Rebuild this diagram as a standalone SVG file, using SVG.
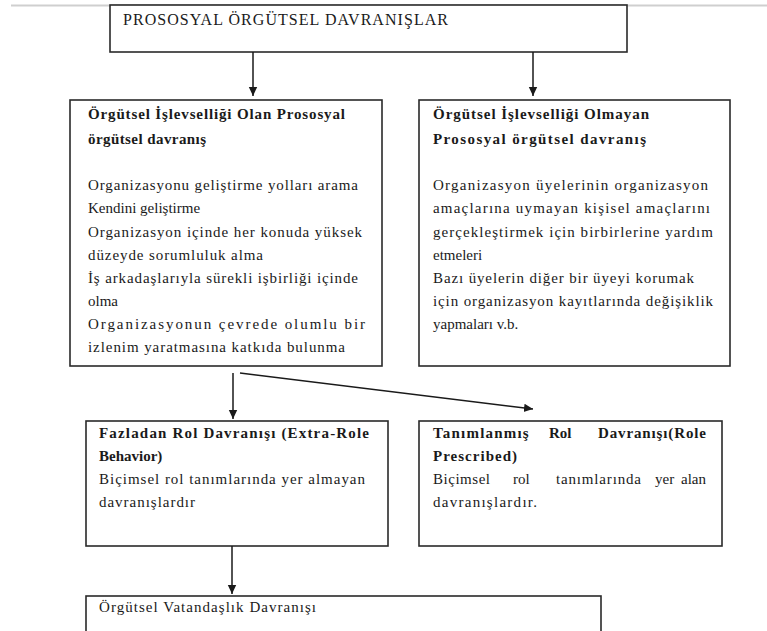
<svg xmlns="http://www.w3.org/2000/svg" width="767" height="631" viewBox="0 0 767 631">
<defs>
<marker id="ah" markerUnits="userSpaceOnUse" markerWidth="10" markerHeight="10" refX="9" refY="5" orient="auto">
<path d="M0,0.8 L9,5 L0,9.2 Z" fill="#1a1a1a"/>
</marker>
<style>
.box{fill:#fff;stroke:#2a2a2a;stroke-width:1.6}
.t{font-family:"Liberation Serif","Times New Roman",serif;font-size:15px;fill:#1a1a1a}
.h{font-size:16px}
.b{font-weight:bold}
.c{stroke:#1a1a1a;stroke-width:1.5;fill:none;marker-end:url(#ah)}
</style>
</defs>
<rect x="0" y="0" width="767" height="631" fill="#fff"/>
<line x1="11" y1="5.5" x2="767" y2="5.5" stroke="#cfcfcf" stroke-width="2"/>

<g id="node-top">
<rect class="box" x="110" y="5" width="517" height="47"/>
<text class="t h" x="123" y="25" textLength="325" lengthAdjust="spacing">PROSOSYAL ÖRGÜTSEL DAVRANIŞLAR</text>
</g>

<g id="node-left">
<rect class="box" x="70" y="100" width="312" height="266"/>
<text class="t b" x="88" y="119" textLength="257" lengthAdjust="spacing">Örgütsel İşlevselliği Olan Prososyal</text>
<text class="t b" x="88" y="144" textLength="118" lengthAdjust="spacing">örgütsel davranış</text>
<text class="t" x="88" y="190" textLength="270" lengthAdjust="spacing">Organizasyonu geliştirme yolları arama</text>
<text class="t" x="88" y="213">Kendini geliştirme</text>
<text class="t" x="88" y="237" textLength="274" lengthAdjust="spacing">Organizasyon içinde her konuda yüksek</text>
<text class="t" x="88" y="260" textLength="175" lengthAdjust="spacing">düzeyde sorumluluk alma</text>
<text class="t" x="88" y="283" textLength="270" lengthAdjust="spacing">İş arkadaşlarıyla sürekli işbirliği içinde</text>
<text class="t" x="88" y="306">olma</text>
<text class="t" x="88" y="329" textLength="277" lengthAdjust="spacing">Organizasyonun çevrede olumlu bir</text>
<text class="t" x="88" y="352" textLength="257" lengthAdjust="spacing">izlenim yaratmasına katkıda bulunma</text>
</g>

<g id="node-right">
<rect class="box" x="419" y="100" width="311" height="266"/>
<text class="t b" x="433" y="119" textLength="216" lengthAdjust="spacing">Örgütsel İşlevselliği Olmayan</text>
<text class="t b" x="433" y="144" textLength="213" lengthAdjust="spacing">Prososyal örgütsel davranış</text>
<text class="t" x="433" y="190" textLength="275" lengthAdjust="spacing">Organizasyon üyelerinin organizasyon</text>
<text class="t" x="433" y="213" textLength="277" lengthAdjust="spacing">amaçlarına uymayan kişisel amaçlarını</text>
<text class="t" x="433" y="237" textLength="280" lengthAdjust="spacing">gerçekleştirmek için birbirlerine yardım</text>
<text class="t" x="433" y="260">etmeleri</text>
<text class="t" x="433" y="283" textLength="261" lengthAdjust="spacing">Bazı üyelerin diğer bir üyeyi korumak</text>
<text class="t" x="433" y="306" textLength="280" lengthAdjust="spacing">için organizasyon kayıtlarında değişiklik</text>
<text class="t" x="433" y="329">yapmaları v.b.</text>
</g>

<g id="node-extra-role">
<rect class="box" x="86" y="421" width="302" height="125"/>
<text class="t b" x="99" y="438" textLength="270" lengthAdjust="spacing">Fazladan Rol Davranışı  (Extra-Role</text>
<text class="t b" x="99" y="461">Behavior)</text>
<text class="t" x="99" y="484" textLength="266" lengthAdjust="spacing">Biçimsel rol tanımlarında yer almayan</text>
<text class="t" x="99" y="507" textLength="96" lengthAdjust="spacing">davranışlardır</text>
</g>

<g id="node-prescribed">
<rect class="box" x="419" y="421" width="303" height="125"/>
<text class="t b" x="433" y="438" letter-spacing="1.2">Tanımlanmış</text>
<text class="t b" x="549" y="438">Rol</text>
<text class="t b" x="598" y="438" textLength="108" lengthAdjust="spacing">Davranışı(Role</text>
<text class="t b" x="433" y="461" textLength="84" lengthAdjust="spacing">Prescribed)</text>
<text class="t" x="433" y="484" textLength="57" lengthAdjust="spacing">Biçimsel</text>
<text class="t" x="513" y="484">rol</text>
<text class="t" x="556" y="484" textLength="85" lengthAdjust="spacing">tanımlarında</text>
<text class="t" x="655" y="484">yer</text>
<text class="t" x="706" y="484" text-anchor="end">alan</text>
<text class="t" x="433" y="507" textLength="104" lengthAdjust="spacing">davranışlardır.</text>
</g>

<g id="node-ovd">
<rect class="box" x="86" y="596" width="515" height="50"/>
<text class="t" x="99" y="612" textLength="217" lengthAdjust="spacing">Örgütsel Vatandaşlık Davranışı</text>
</g>

<g id="connectors">
<line class="c" x1="253" y1="52" x2="253" y2="96"/>
<line class="c" x1="533" y1="52" x2="533" y2="96"/>
<line class="c" x1="233" y1="373" x2="233" y2="419"/>
<line class="c" x1="240" y1="373" x2="533" y2="409"/>
<line class="c" x1="232" y1="546" x2="232" y2="594"/>
</g>
</svg>
